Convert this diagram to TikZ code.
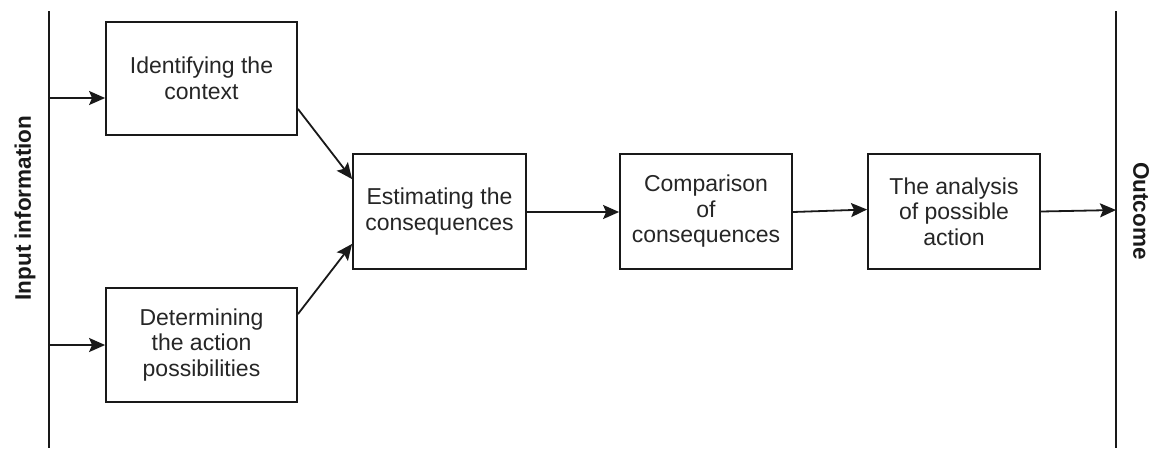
\documentclass[tikz,border=0pt]{standalone}
\usepackage{fontspec}
\setmainfont{Liberation Sans}
\usetikzlibrary{arrows.meta,calc}
\begin{document}
\begin{tikzpicture}[x=1pt,y=-1pt,
  box/.style={draw=black!90, line width=1.8pt, rectangle, align=center, inner sep=0pt,
    font=\fontsize{23}{25.5}\selectfont, text=black!85},
  arr/.style={draw=black!90, line width=1.8pt, -{Stealth[length=16pt,width=14pt,inset=3pt]}},
  bar/.style={draw=black!90, line width=1.8pt},
  side/.style={font=\bfseries\fontsize{22.5}{26}\selectfont, text=black!90, inner sep=0pt}]
\useasboundingbox (0,0) rectangle (1150,448);
\fill[white] (0,0) rectangle (1150,448);
% side bars
\coordinate (lt) at (49,11);
\coordinate (lb) at (49,448);
\coordinate (rt) at (1116,11);
\coordinate (rb) at (1116,448);
\draw[bar] (lt) -- (lb);
\draw[bar] (rt) -- (rb);
\coordinate (in1) at (49,98);
\coordinate (in2) at (49,345);
\coordinate (out) at (1116,210);
% labels
\node[side, rotate=90] (inp) at (25,208) {Input information};
\node[side, rotate=-90] (outc) at (1141,211) {Outcome};
% boxes
\node[box, minimum width=191pt, minimum height=113pt] (b1) at (201.5,78.5) {Identifying the\\context};
\node[box, minimum width=191pt, minimum height=114pt] (b2) at (201.5,345) {Determining\\the action\\possibilities};
\node[box, minimum width=173pt, minimum height=115pt] (b3) at (439.5,211.5) {Estimating the\\consequences};
\node[box, minimum width=172pt, minimum height=115pt] (b4) at (706,211.5) {Comparison\\of\\consequences};
\node[box, minimum width=172pt, minimum height=115pt] (b5) at (954,211.5) {The analysis\\of possible\\action};
% arrows
\draw[arr] (in1) -- (b1.west |- in1);
\draw[arr] (in2) -- (b2.west);
\draw[arr] ([yshift=27pt]b1.south east) -- ([yshift=-26pt]b3.north west);
\draw[arr] ([yshift=-27pt]b2.north east) -- ([yshift=26pt]b3.south west);
\draw[arr] ([yshift=-0.5pt]b3.east) -- ([yshift=-0.5pt]b4.west);
\draw[arr] ([yshift=-0.5pt]b4.east) -- ([yshift=2pt]b5.west);
\draw[arr] (b5.east) -- (out);
\end{tikzpicture}
\end{document}
